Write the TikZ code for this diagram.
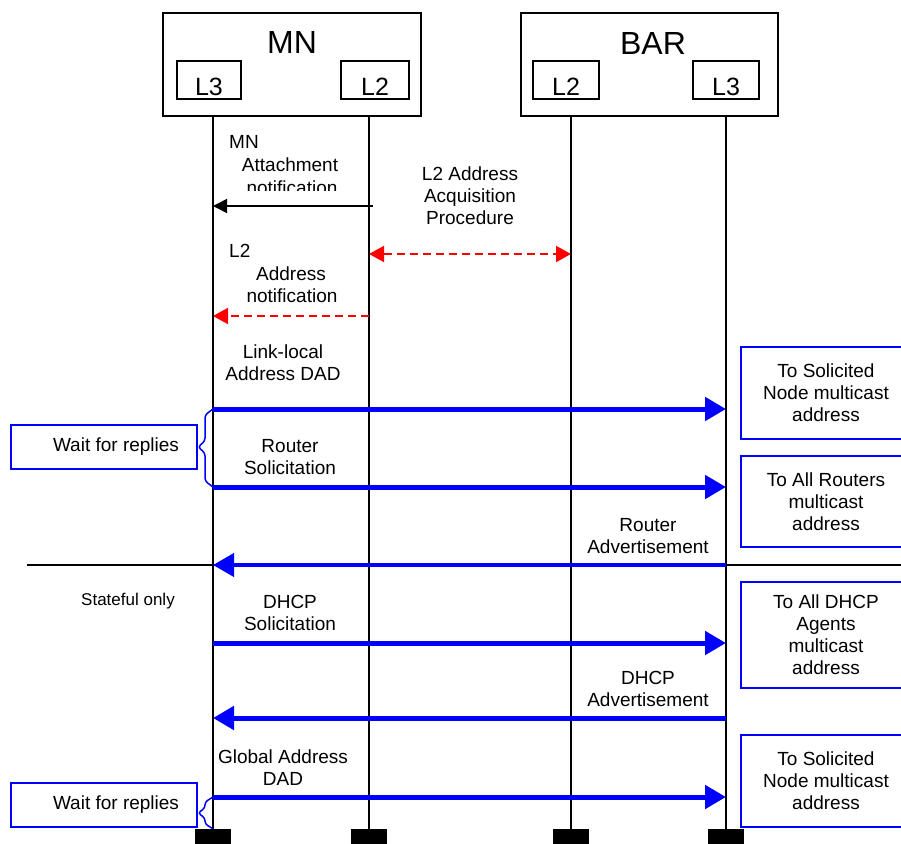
\documentclass[tikz,border=0pt]{standalone}
\usepackage{fontspec}
\setmainfont{Liberation Sans}
\usetikzlibrary{arrows.meta}

\begin{document}
\begin{tikzpicture}[x=1pt, y=-1pt,
    box/.style={draw, line width=1.5pt, inner sep=0pt},
    layer/.style={box, minimum height=38pt, font=\fontsize{25}{25}\selectfont, text height=30pt, text depth=0pt},
    title/.style={font=\fontsize{32}{32}\selectfont},
    life/.style={line width=1.5pt},
    foot/.style={fill=black, minimum width=36pt, minimum height=16pt, inner sep=0pt},
    lbl/.style={font=\fontsize{19}{22}\selectfont, align=center, inner sep=0pt},
    note/.style={lbl, draw=blue, line width=1.5pt},
    ctrl/.style={line width=1.5pt, -{Triangle[length=14pt, width=14pt]}},
    l2dash/.style={red, line width=2pt, dash pattern=on 8pt off 5pt},
    sig/.style={blue, line width=5pt, -{Triangle[length=21pt, width=23pt]}},
    brace/.style={blue, line width=1.5pt, rounded corners=3pt}]

    \useasboundingbox (0,0) rectangle (901,843);

    % entities
    \node[box, minimum width=258pt, minimum height=103pt] (mnbox) at (292,64.5) {};
    \node[title] (mnname) at (292,42) {MN};
    \node[layer, minimum width=64pt] (mnl3) at (209,80) {L3};
    \node[layer, minimum width=68pt] (mnl2) at (375,80) {L2};

    \node[box, minimum width=257pt, minimum height=103pt] (barbox) at (649.5,64.5) {};
    \node[title] (barname) at (653,43) {BAR};
    \node[layer, minimum width=66pt] (barl2) at (566,80) {L2};
    \node[layer, minimum width=66pt] (barl3) at (726,80) {L3};

    % lifelines
    \coordinate (mn3) at (213,116);
    \coordinate (mn2) at (369,116);
    \coordinate (bar2) at (571,116);
    \coordinate (bar3) at (726,116);
    \node[foot] (mn3f) at (213,837) {};
    \node[foot] (mn2f) at (369,837) {};
    \node[foot] (bar2f) at (571,837) {};
    \node[foot] (bar3f) at (726,837) {};
    \draw[life] (mn3) -- (mn3f.north);
    \draw[life] (mn2) -- (mn2f.north);
    \draw[life] (bar2) -- (bar2f.north);
    \draw[life] (bar3) -- (bar3f.north);

    % message rows
    \coordinate (att) at (0,206);
    \coordinate (acq) at (0,254);
    \coordinate (l2n) at (0,316);
    \coordinate (lld) at (0,409);
    \coordinate (rs) at (0,487);
    \coordinate (ra) at (0,565);
    \coordinate (ds) at (0,643);
    \coordinate (da) at (0,718);
    \coordinate (gd) at (0,797);

    % layer 2 part
    \begin{scope}
        \clip (220,125) rectangle (360,190.5);
        \node[lbl, anchor=west] (attmn) at (229,142) {MN};
        \node[lbl] (atttxt) at (290,164.5) {Attachment};
        \node[lbl] (attnote) at (292,187.5) {notification};
    \end{scope}
    \coordinate (attfrom) at (373,206);
    \draw[ctrl] (attfrom) -- (mn3 |- att);

    \node[lbl] (acqtxt) at (470,196) {L2 Address\\Acquisition\\Procedure};
    \draw[l2dash, {Triangle[length=15pt, width=16pt]}-{Triangle[length=15pt, width=16pt]}] (mn2 |- acq) -- (bar2 |- acq);

    \node[lbl, anchor=west] (l2nl2) at (229,251) {L2};
    \node[lbl] (l2naddr) at (291,274) {Address};
    \node[lbl] (l2nnote) at (292,296) {notification};
    \draw[l2dash, -{Triangle[length=15pt, width=16pt]}] (mn2 |- l2n) -- (mn3 |- l2n);

    % stateless part
    \node[lbl] (lldtxt) at (283,362.5) {Link-local\\Address DAD};
    \draw[sig] (mn3 |- lld) -- (bar3 |- lld);
    \node[note, minimum width=170pt, minimum height=92pt] (lldto) at (826,393) {To Solicited\\Node multicast\\address};

    \node[lbl] (rstxt) at (290,457.5) {Router\\Solicitation};
    \draw[sig] (mn3 |- rs) -- (bar3 |- rs);
    \node[note, minimum width=170pt, minimum height=91pt] (rsto) at (826,501.5) {To All Routers\\multicast\\address};

    \node[note, minimum width=186pt, minimum height=44pt] (wait1) at (104,447) {\hspace*{24pt}Wait for replies};
    \draw[brace] (mn3 |- lld) -- ++(-8,6) -- ++(0,26) -- ++(-7,6) -- ++(7,6) -- ++(0,28) -- (mn3 |- rs);

    \node[lbl] (ratxt) at (648,536) {Router\\Advertisement};
    \coordinate (sepl) at (27,565);
    \coordinate (sepr) at (905,565);
    \draw[life] (sepl) -- (sepr);
    \draw[sig, line width=4pt] (bar3 |- ra) -- (mn3 |- ra);

    % stateful part
    \node[font=\fontsize{17}{20}\selectfont, inner sep=0pt] (stateful) at (128,601) {Stateful only};

    \node[lbl] (dstxt) at (290,613) {DHCP\\Solicitation};
    \draw[sig] (mn3 |- ds) -- (bar3 |- ds);
    \node[note, minimum width=170pt, minimum height=106pt] (dsto) at (826,635) {To All DHCP\\Agents\\multicast\\address};

    \node[lbl] (datxt) at (648,689) {DHCP\\Advertisement};
    \draw[sig] (bar3 |- da) -- (mn3 |- da);

    \node[lbl] (gdtxt) at (283,768) {Global Address\\DAD};
    \draw[sig] (mn3 |- gd) -- (bar3 |- gd);
    \node[note, minimum width=170pt, minimum height=92pt] (gdto) at (826,781) {To Solicited\\Node multicast\\address};

    \node[note, minimum width=186pt, minimum height=44pt] (wait2) at (104,805) {\hspace*{24pt}Wait for replies};
    \draw[brace] (mn3 |- gd) -- ++(-8,5) -- ++(0,6) -- ++(-7,5) -- ++(7,5) -- ++(0,6) -- (mn3f.north);
\end{tikzpicture}
\end{document}
